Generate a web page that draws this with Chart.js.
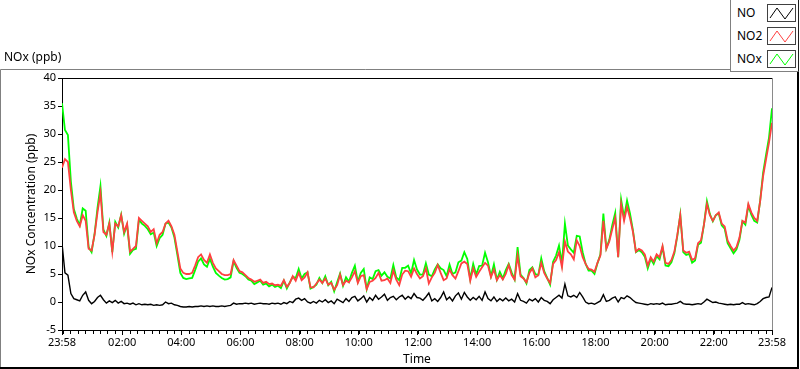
<!DOCTYPE html>
<html lang="en">
<head>
  <meta charset="UTF-8">
  <title>NOx (ppb)</title>
  <style>
    body { margin: 0; background: #fff; font-family: 'Noto Sans', sans-serif; color: #000; }
    .wrap { position: relative; width: 800px; height: 369px; overflow: hidden; }
    #noxChart { position: absolute; left: 0; top: 0; }
    .graph-title { position: absolute; left: 4px; top: 49px; font-size: 12px; line-height: 16px; }
    .legend { position: absolute; left: 730px; top: 0; width: 67px; height: 71px; background: #fff;
      border-left: 1px solid #808080; border-bottom: 1px solid #808080; border-right: 1px solid #202020; }
    .legend-row { position: absolute; left: 6px; width: 62px; height: 18px; }
    .legend-row span { position: absolute; left: 0; top: 0; font-size: 12px; line-height: 18px; }
    .legend-row svg { position: absolute; left: 30px; top: 0; }
  </style>
</head>
<body>
<div class="wrap">
  <canvas id="noxChart" width="800" height="369"></canvas>
  <div class="graph-title">NOx (ppb)</div>
  <div class="legend" id="legend"></div>
</div>

<script src="https://cdn.jsdelivr.net/npm/chart.js"></script>
<script>
  // x = minutes since 23:58 (one day)
  const minutes = [];
  for (let m = 0; m <= 1440; m += 6) minutes.push(m);

  const noValues = [
    10.5, 5.2, 4.8, 1.5, 0.6, 0.4, 0.2, 1.2, 1.8, 0.3, -0.3, 0.1, 0.8, 1.2, 0.4, -0.2, 0.2, -0.1, 0.3, -0.2,
    0.1, -0.3, -0.2, -0.4, -0.2, -0.5, -0.3, -0.5, -0.4, -0.5, -0.4, -0.6, -0.5, -0.6, -0.5, 0.0, -0.3, -0.2, -0.5, -0.6,
    -0.8, -0.9, -0.9, -0.8, -0.9, -0.8, -0.8, -0.7, -0.8, -0.7, -0.8, -0.7, -0.8, -0.8, -0.7, -0.8, -0.7, -0.6, -0.2, -0.4,
    -0.3,
    -0.3, -0.2, -0.3, -0.2, -0.4, -0.3, -0.2, -0.3, -0.3, -0.4, -0.2, -0.3, -0.2, -0.4, -0.1, -0.3, 0.1, -0.1, 0.5, 0.7,
    0.3, 0.6, 0.0, -0.2, 0.1, -0.2, 0.3, 0.0, 0.4, -0.1, 0.2, -0.3, 0.5, 0.2, -0.1, 0.6, 0.1, 0.8, 1.0, 0.2,
    0.6, 1.1, 0.0, 0.8, 0.3, 1.2, 0.5, 0.9, 1.4, 0.3, 0.8, 1.0, 0.4, 0.9, 1.2, 0.5, 1.0, 0.6, 1.5, 0.8,
    0.7,
    0.3, 0.9, 1.6, 0.2, 0.6, 0.1, 0.8, 1.8, 0.4, 0.9, 0.2, 1.1, 1.6, 0.5, 1.7, 0.9, 0.3, 0.8, 0.4, 1.0,
    0.3, 1.8, 0.6, 0.2, 0.9, 0.1, 0.6, 0.2, 0.7, 0.2, 0.5, 0.0, 1.5, 0.3, 0.1, -0.2, 0.5, 0.2, 0.6, 0.0,
    0.8, 0.3, 0.1, -0.3, 0.4, 0.8, 1.2, 0.7, 3.2, 1.1, 0.9, 1.2, 0.8, 1.7, 0.9, 0.0, -0.3, -0.2, -0.4, -0.1,
    0.2, 1.3, 0.1, 0.3, 0.7, 0.9, 0.0, 0.8, 0.6, 1.1, 0.8, 0.3, -0.1, -0.2, -0.3, -0.4, -0.5, -0.3, -0.4, -0.3,
    -0.4, -0.2, -0.5, -0.4, -0.4, -0.3, -0.2, 0.1, -0.3, -0.4, -0.4, -0.5, -0.4, -0.3, -0.4, 0.0, 0.5, 0.2, -0.1, 0.0,
    -0.2, -0.3, -0.4, -0.5, -0.4, -0.5, -0.4, -0.4, -0.1, -0.4, -0.3, -0.4, -0.5, -0.3, 0.1, 0.6, 0.8, 0.9, 2.6
  ];

  const no2Values = [
    24, 25.5, 25, 20, 16, 14.5, 13.5, 15.5, 14.5, 9.5, 9.2, 12, 16, 19.5, 12.5, 12, 14, 9, 14, 13.5,
    15.5, 12.5, 14, 9, 9.5, 10, 15, 14.5, 14, 13.5, 12.5, 13, 10.5, 12, 12.5, 14, 14.5, 13.5, 12, 9,
    6, 5.2, 5, 5, 5.2, 6.5, 8, 8.5, 7.5, 7, 8.5, 7, 6, 5.5, 5, 4.8, 4.8, 5, 7.5, 6.5,
    5.5,
    5.3, 4.8, 4.3, 4.0, 3.6, 3.8, 4.0, 3.4, 3.6, 3.2, 3.3, 3.0, 3.1, 2.9, 3.9, 2.7, 3.4, 4.6, 3.8, 5.2,
    3.9, 4.4, 5.3, 2.6, 2.6, 3.3, 4.0, 3.4, 4.2, 3.1, 3.4, 2.2, 3.0, 4.9, 3.0, 3.8, 3.5, 4.4, 5.5, 3.4,
    4.6, 4.8, 2.3, 3.6, 3.8, 4.3, 5.2, 3.8, 3.9, 4.2, 3.4, 5.6, 4.0, 3.0, 4.9, 5.6, 5.5, 4.5, 6.0, 5.0,
    4.2,
    4.6, 6.0, 3.3, 4.4, 5.2, 6.6, 5.2, 3.9, 4.2, 5.8, 4.8, 4.2, 5.5, 6.9, 7.2, 6.8, 3.8, 6.0, 4.5, 5.4,
    6.2, 7.0, 6.5, 4.4, 5.8, 3.9, 4.8, 4.0, 5.0, 6.6, 4.8, 4.0, 8.3, 4.6, 4.2, 3.5, 5.2, 6.0, 4.4, 4.8,
    7.0, 5.2, 4.2, 3.4, 6.8, 7.5, 8.9, 6.2, 10.8, 9.0, 8.5, 7.6, 11.0, 10.0, 8.0, 6.8, 5.9, 5.8, 5.4, 7.0,
    8.3, 14.5, 9.5, 10.8, 13, 15, 8.0, 17.5, 14.5, 17, 15, 12.5, 9, 9.5, 9.2, 8.5, 6.5, 8.0, 7.2, 8.5,
    8.0, 10.0, 7.0, 6.8, 7.5, 9.0, 12.0, 15.5, 9.2, 8.8, 9.0, 7.5, 7.8, 10.5, 11.0, 13.8, 17.5, 15.5, 14.5, 15.5,
    16.0, 14.0, 13.5, 11.0, 10.0, 9.2, 9.8, 11.5, 14.5, 14.2, 17.5, 16.0, 15.0, 14.5, 18.0, 22.5, 25.5, 28.5, 32.0
  ];

  const noxValues = [
    35.5, 30.7, 29.8, 21.5, 16.6, 14.9, 13.7, 16.7, 16.3, 9.8, 8.9, 12.1, 16.8, 20.7, 12.9, 11.8, 14.2, 8.9, 14.3, 13.3,
    15.6, 12.2, 13.8, 8.6, 9.3, 9.5, 14.7, 14.0, 13.6, 13.0, 12.1, 12.4, 10.0, 11.4, 12.0, 14.0, 14.2, 13.3, 11.5, 8.4,
    5.2, 4.3, 4.1, 4.2, 4.3, 5.7, 7.2, 7.8, 6.7, 6.3, 7.7, 6.3, 5.2, 4.7, 4.3, 4.0, 4.1, 4.4, 7.3, 6.1,
    5.2,
    5.0, 4.6, 4.0, 3.8, 3.2, 3.5, 3.8, 3.1, 3.3, 2.8, 3.1, 2.7, 2.9, 2.5, 3.8, 2.4, 3.5, 4.5, 4.3, 5.9,
    4.2, 5.0, 5.3, 2.4, 2.7, 3.1, 4.3, 3.4, 4.6, 3.0, 3.6, 1.9, 3.5, 5.1, 2.9, 4.4, 3.6, 5.2, 6.5, 3.6,
    5.2, 5.9, 2.3, 4.4, 4.1, 5.5, 5.7, 4.7, 5.3, 4.5, 4.2, 6.6, 4.4, 3.9, 6.1, 6.1, 6.5, 5.1, 7.5, 5.8,
    4.9,
    4.9, 6.9, 4.9, 4.6, 5.8, 6.7, 6.0, 5.7, 4.6, 6.7, 5.0, 5.3, 7.1, 7.4, 8.9, 7.7, 4.1, 6.8, 4.9, 6.4,
    6.5, 8.8, 7.1, 4.6, 6.7, 4.0, 5.4, 4.2, 5.7, 6.8, 5.3, 4.0, 9.8, 4.9, 4.3, 3.3, 5.7, 6.2, 5.0, 4.8,
    7.8, 5.5, 4.3, 3.1, 7.2, 8.3, 10.1, 6.9, 14.0, 10.1, 9.4, 8.8, 11.8, 11.7, 8.9, 6.8, 5.6, 5.6, 5.0, 6.9,
    8.5, 15.8, 9.6, 11.1, 13.7, 15.9, 8.0, 18.3, 15.1, 18.1, 15.8, 12.8, 8.9, 9.3, 8.9, 8.1, 6.0, 7.7, 6.8, 8.2,
    7.6, 9.8, 6.5, 6.4, 7.1, 8.7, 11.8, 15.6, 8.9, 8.4, 8.6, 7.0, 7.4, 10.2, 10.6, 13.8, 18.0, 15.7, 14.4, 15.5,
    15.8, 13.7, 13.1, 10.5, 9.6, 8.7, 9.4, 11.1, 14.4, 13.8, 17.2, 15.6, 14.5, 14.2, 18.1, 23.1, 26.3, 29.4, 34.6
  ];

  const majorMinutes = [0, 122, 242, 362, 482, 602, 722, 842, 962, 1082, 1202, 1322, 1440];
  const timeLabels = ['23:58', '02:00', '04:00', '06:00', '08:00', '10:00', '12:00', '14:00', '16:00', '18:00', '20:00', '22:00', '23:58'];

  const seriesNames = ['NO', 'NO2', 'NOx'];
  const seriesColors = ['#000000', '#ff4040', '#00ff00'];

  // legend (html)
  const legend = document.getElementById('legend');
  seriesNames.forEach((name, i) => {
    const row = document.createElement('div');
    row.className = 'legend-row';
    row.style.top = (4 + i * 23) + 'px';
    row.innerHTML = '<span>' + name + '</span>' +
      '<svg width="29" height="18"><rect x="0.5" y="0.5" width="28" height="17" fill="#fff" stroke="#404040"/>' +
      '<polyline points="3,14 10,4 18,15 26,4" fill="none" stroke="' + seriesColors[i] + '" stroke-width="1"/></svg>';
    legend.appendChild(row);
  });

  // frame + minor ticks
  const framePlugin = {
    id: 'frame',
    beforeDraw(chart) {
      const ctx = chart.ctx;
      ctx.save();
      ctx.fillStyle = '#fff';
      ctx.fillRect(0, 0, chart.width, chart.height);
      ctx.restore();
    },
    afterDraw(chart) {
      const ctx = chart.ctx;
      const a = chart.chartArea;
      ctx.save();
      ctx.lineWidth = 1;
      // outer panel
      ctx.strokeStyle = '#808080';
      ctx.beginPath();
      ctx.moveTo(0.5, 368); ctx.lineTo(0.5, 69.5); ctx.lineTo(730, 69.5);
      ctx.stroke();
      ctx.strokeStyle = '#000';
      ctx.lineWidth = 2;
      ctx.beginPath();
      ctx.moveTo(0, 368); ctx.lineTo(798, 368); ctx.lineTo(798, 71);
      ctx.stroke();
      // plot frame
      ctx.lineWidth = 1;
      ctx.strokeStyle = '#000';
      ctx.beginPath();
      ctx.moveTo(a.left, a.top + 0.5); ctx.lineTo(a.right, a.top + 0.5);
      ctx.stroke();
      ctx.strokeStyle = '#8a8a8a';
      ctx.beginPath();
      ctx.moveTo(a.right + 0.5, a.top); ctx.lineTo(a.right + 0.5, a.bottom);
      ctx.stroke();
      // minor ticks every 15 min (clock time)
      const xs = chart.scales.x;
      ctx.strokeStyle = '#000';
      ctx.beginPath();
      for (let m = 2; m < 1440; m += 15) {
        const px = Math.round(xs.getPixelForValue(m)) + 0.5;
        ctx.moveTo(px, a.bottom + 1); ctx.lineTo(px, a.bottom + 4);
      }
      ctx.stroke();
      ctx.restore();
    }
  };

  const fontTick = { family: "'Noto Sans', sans-serif", size: 11 };
  const fontTitle = { family: "'Noto Sans', sans-serif", size: 12 };

  const ctx = document.getElementById('noxChart').getContext('2d');
  const noxChart = new Chart(ctx, {
    type: 'line',
    data: {
      datasets: [
        { label: 'NO', data: minutes.map((m, i) => ({ x: m, y: noValues[i] })), borderColor: seriesColors[0], borderWidth: 1.4 },
        { label: 'NO2', data: minutes.map((m, i) => ({ x: m, y: no2Values[i] })), borderColor: seriesColors[1], borderWidth: 1.8 },
        { label: 'NOx', data: minutes.map((m, i) => ({ x: m, y: noxValues[i] })), borderColor: seriesColors[2], borderWidth: 1.8 }
      ]
    },
    options: {
      responsive: false,
      animation: false,
      devicePixelRatio: 1,
      elements: { point: { radius: 0 }, line: { tension: 0 } },
      layout: { padding: { left: 0, top: 78, right: 28, bottom: 0 } },
      plugins: { legend: { display: false }, tooltip: { enabled: false } },
      scales: {
        x: {
          type: 'linear',
          min: 0,
          max: 1440,
          afterBuildTicks: (scale) => { scale.ticks = majorMinutes.map(v => ({ value: v })); },
          afterFit: (scale) => { scale.height = 39; },
          ticks: {
            callback: (value, index) => timeLabels[index],
            color: '#000',
            font: fontTick,
            padding: 1,
            maxRotation: 0,
            autoSkip: false
          },
          grid: { drawOnChartArea: false, tickLength: 5, tickColor: '#000' },
          border: { color: '#000', width: 1 },
          title: { display: true, text: 'Time', color: '#000', font: fontTitle, padding: { top: 0, bottom: 2 } }
        },
        y: {
          min: -5,
          max: 40,
          afterFit: (scale) => { scale.width = 62; },
          ticks: { stepSize: 5, color: '#000', font: fontTick, padding: 2 },
          grid: { drawOnChartArea: false, tickLength: 4, tickColor: '#000' },
          border: { color: '#000', width: 1 },
          title: { display: true, text: 'NOx Concentration (ppb)', color: '#000', font: fontTitle, padding: { top: 24, bottom: 0 } }
        }
      }
    },
    plugins: [framePlugin]
  });
</script>
</body>
</html>
